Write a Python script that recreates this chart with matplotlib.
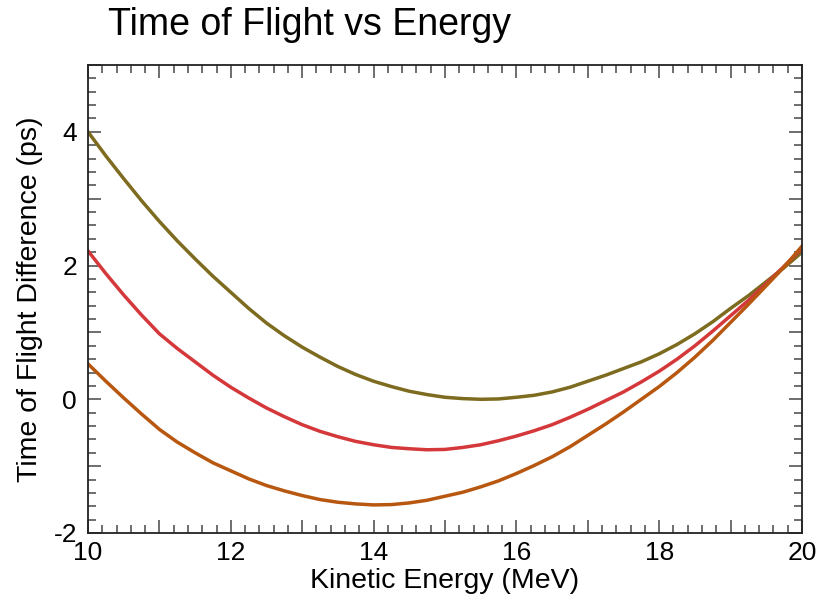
import matplotlib
matplotlib.use("Agg")
import matplotlib.pyplot as plt
from matplotlib.ticker import MultipleLocator, FuncFormatter

plt.rcParams['font.family'] = ['Liberation Sans', 'DejaVu Sans']

# kinetic energy (MeV)
energy = [10, 10.25, 10.5, 10.75, 11, 11.25, 11.5, 11.75, 12, 12.25, 12.5, 12.75,
          13, 13.25, 13.5, 13.75, 14, 14.25, 14.5, 14.75, 15, 15.25, 15.5, 15.75,
          16, 16.25, 16.5, 16.75, 17, 17.25, 17.5, 17.75, 18, 18.25, 18.5, 18.75,
          19, 19.25, 19.5, 19.75, 20]

# time of flight difference (ps)
tof_olive = [4.0, 3.64, 3.3, 2.97, 2.66, 2.37, 2.1, 1.84, 1.6, 1.36, 1.14, 0.95,
             0.78, 0.63, 0.49, 0.37, 0.27, 0.19, 0.12, 0.07, 0.03, 0.01, 0.0, 0.005,
             0.03, 0.06, 0.11, 0.18, 0.27, 0.36, 0.46, 0.56, 0.68, 0.82, 0.98, 1.16,
             1.36, 1.55, 1.76, 1.97, 2.2]
tof_red = [2.22, 1.88, 1.56, 1.26, 0.98, 0.76, 0.56, 0.36, 0.18, 0.02, -0.13, -0.26,
           -0.38, -0.48, -0.56, -0.63, -0.68, -0.72, -0.74, -0.755, -0.75, -0.72, -0.68, -0.62,
           -0.55, -0.47, -0.38, -0.27, -0.15, -0.02, 0.11, 0.26, 0.42, 0.6, 0.8, 1.02,
           1.25, 1.48, 1.73, 1.99, 2.26]
tof_orange = [0.53, 0.27, 0.02, -0.22, -0.45, -0.64, -0.8, -0.95, -1.07, -1.19, -1.29, -1.37,
              -1.44, -1.5, -1.54, -1.565, -1.58, -1.575, -1.55, -1.51, -1.45, -1.39, -1.31, -1.22,
              -1.11, -0.99, -0.86, -0.71, -0.54, -0.37, -0.19, 0.0, 0.19, 0.4, 0.63, 0.88,
              1.15, 1.42, 1.7, 1.98, 2.29]

fig = plt.figure(figsize=(8.19, 5.99), dpi=100)
ax = fig.add_axes([88/819, 1-533/599, (802-88)/819, (533-65)/599])

ax.plot(energy, tof_olive, color='#7d6b1f', lw=2.5)
ax.plot(energy, tof_red, color='#d4383a', lw=2.5)
ax.plot(energy, tof_orange, color='#b8570f', lw=2.5)

ax.set_xlim(10, 20)
ax.set_ylim(-2, 5)

ax.xaxis.set_major_locator(MultipleLocator(1))
ax.xaxis.set_minor_locator(MultipleLocator(0.2))
ax.yaxis.set_major_locator(MultipleLocator(1))
ax.yaxis.set_minor_locator(MultipleLocator(0.2))
even = FuncFormatter(lambda v, p: '%d' % round(v) if round(v) % 2 == 0 else '')
ax.xaxis.set_major_formatter(even)
ax.yaxis.set_major_formatter(even)

ax.tick_params(which='both', direction='in', top=True, right=True, color='#555555', width=1.2)
ax.tick_params(which='major', length=9.5, labelsize=19)
ax.tick_params(which='minor', length=5.8)
ax.tick_params(axis='x', which='major', pad=6)
ax.tick_params(axis='y', which='major', pad=8)
for s in ax.spines.values():
    s.set_linewidth(1.3)
    s.set_color('#222222')

ax.set_xlabel('Kinetic Energy (MeV)', fontsize=20.5, labelpad=2)
ax.set_ylabel('Time of Flight Difference (ps)', fontsize=20.5)
ax.yaxis.set_label_coords(-0.063, 0.5)
fig.text(108/819, 1-25/599, 'Time of Flight vs Energy', fontsize=27, va='center', ha='left')

fig.savefig('out.png', dpi=100)
